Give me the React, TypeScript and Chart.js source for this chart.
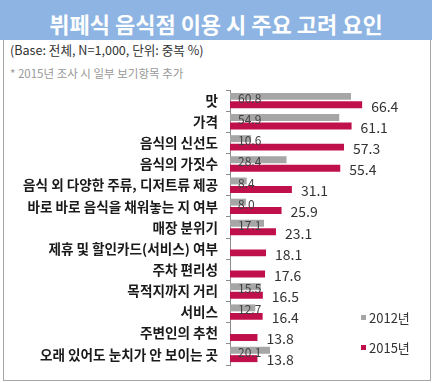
import React, { useEffect, useRef } from "react";
import { Chart, registerables } from "chart.js";

Chart.register(...registerables);

const categories = [
  "맛",
  "가격",
  "음식의 신선도",
  "음식의 가짓수",
  "음식 외 다양한 주류, 디저트류 제공",
  "바로 바로 음식을 채워놓는 지 여부",
  "매장 분위기",
  "제휴 및 할인카드(서비스) 여부",
  "주차 편리성",
  "목적지까지 거리",
  "서비스",
  "주변인의 추천",
  "오래 있어도 눈치가 안 보이는 곳",
];
const values2012: (number | null)[] = [60.8, 54.9, 10.6, 28.4, 8.4, 8.0, 17.1, null, null, 15.5, 12.7, null, 20.1];
const values2015: (number | null)[] = [66.4, 61.1, 57.3, 55.4, 31.1, 25.9, 23.1, 18.1, 17.6, 16.5, 16.4, 13.8, 13.8];
const seriesNames = ["2012년", "2015년"];
const seriesColors = ["#A6A6A6", "#C0104C"];
const titleText = "뷔페식 음식점 이용 시 주요 고려 요인";
const subtitleText = "(Base: 전체, N=1,000, 단위: 중복 %)";
const noteText = "* 2015년 조사 시 일부 보기항목 추가";

const FONT = '"Noto Sans CJK KR", "Noto Sans", sans-serif';

const valueLabels = {
  id: "valueLabels",
  afterDatasetsDraw(chart: any) {
    const ctx = chart.ctx;
    ctx.save();
    ctx.textBaseline = "middle";
    ctx.textAlign = "left";
    chart.data.datasets.forEach((ds: any, di: number) => {
      const meta = chart.getDatasetMeta(di);
      meta.data.forEach((bar: any, i: number) => {
        const v = ds.data[i];
        if (v === null || v === undefined) return;
        const txt = Number(v).toFixed(1);
        if (di === 0) {
          ctx.font = `12px ${FONT}`;
          ctx.fillStyle = "#404040";
          ctx.fillText(txt, bar.base + 8, bar.y + 2);
        } else {
          ctx.font = `14px ${FONT}`;
          ctx.fillStyle = "#333333";
          ctx.fillText(txt, bar.x + 9, bar.y + 1.5);
        }
      });
    });
    ctx.restore();
  },
};

export default function App() {
  const ref = useRef<HTMLCanvasElement | null>(null);
  useEffect(() => {
    if (!ref.current) return;
    const chart = new Chart(ref.current, {
      type: "bar",
      data: {
        labels: categories,
        datasets: [
          {
            label: seriesNames[0],
            data: values2012,
            backgroundColor: seriesColors[0],
            categoryPercentage: 0.8,
            barPercentage: 0.82,
          },
          {
            label: seriesNames[1],
            data: values2015,
            backgroundColor: seriesColors[1],
            categoryPercentage: 0.8,
            barPercentage: 0.82,
          },
        ],
      },
      options: {
        indexAxis: "y",
        responsive: false,
        animation: false,
        layout: { padding: { left: 0, right: 6, top: 90, bottom: 18 } },
        plugins: {
          legend: { display: false },
          tooltip: { enabled: false },
          title: { display: false },
        },
        scales: {
          x: { display: false, min: 0, max: 100 },
          y: {
            afterFit: (s: any) => {
              s.width = 230;
            },
            grid: {
              drawOnChartArea: false,
              drawTicks: true,
              tickLength: 4,
              color: "#8C8C8C",
            },
            border: { display: true, color: "#8C8C8C" },
            ticks: {
              padding: 8,
              color: "#1A1A1A",
              font: { family: FONT, size: 13.6, weight: "bold" as any },
              autoSkip: false,
            },
          },
        },
      },
      plugins: [valueLabels],
    });
    return () => chart.destroy();
  }, []);

  return (
    <div style={{ position: "absolute", left: 0, top: 0, width: 435, height: 383, background: "#fff", fontFamily: FONT }}>
      <div
        style={{
          position: "absolute",
          left: 0,
          top: 0,
          width: 432,
          height: 40,
          background: "#8DB4E2",
          color: "#fff",
          fontWeight: "bold",
          fontSize: 22,
          lineHeight: "46px",
          textAlign: "center",
          whiteSpace: "nowrap",
        }}
      >
        {titleText}
      </div>
      <div
        style={{
          position: "absolute",
          left: 3,
          top: 40,
          width: 428,
          height: 341,
          boxSizing: "border-box",
          border: "1px solid #A6A6A6",
          borderTop: "none",
        }}
      />
      <div style={{ position: "absolute", left: 10, top: 41, fontSize: 12.6, lineHeight: "18px", color: "#333", whiteSpace: "nowrap" }}>
        {subtitleText}
      </div>
      <div style={{ position: "absolute", left: 10, top: 65, fontSize: 11.5, lineHeight: "16px", color: "#999", whiteSpace: "nowrap" }}>
        {noteText}
      </div>
      <canvas ref={ref} width={435} height={383} style={{ position: "absolute", left: 0, top: 0, width: 435, height: 383 }} />
      {seriesNames.map((n, i) => (
        <div
          key={n}
          style={{
            position: "absolute",
            left: 361,
            top: 308 + i * 30,
            height: 18,
            display: "flex",
            alignItems: "center",
            fontSize: 13,
            color: "#333",
            whiteSpace: "nowrap",
          }}
        >
          <span style={{ display: "inline-block", width: 5, height: 5, background: seriesColors[i], marginRight: 3 }} />
          {n}
        </div>
      ))}
    </div>
  );
}
